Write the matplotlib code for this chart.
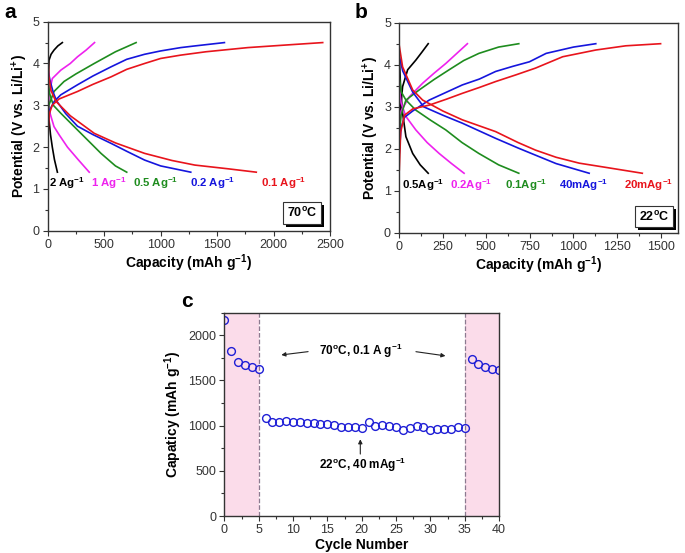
import matplotlib
matplotlib.use("Agg")
import matplotlib.pyplot as plt
from matplotlib.ticker import MultipleLocator
from matplotlib.patches import Rectangle
from matplotlib.transforms import IdentityTransform

plt.rcParams['font.family'] = ['Liberation Sans', 'DejaVu Sans']
plt.rcParams['mathtext.fontset'] = 'custom'
plt.rcParams['mathtext.rm'] = 'Liberation Sans'
plt.rcParams['mathtext.bf'] = 'Liberation Sans:bold'

# ---- panel a : 70 C, capacity (mAh/g) vs potential (V) ----
a_rates = ['2 Ag$^{\\mathbf{-1}}$', '1 Ag$^{\\mathbf{-1}}$', '0.5 Ag$^{\\mathbf{-1}}$',
           '0.2 Ag$^{\\mathbf{-1}}$', '0.1 Ag$^{\\mathbf{-1}}$']
a_label_x = [15, 385, 757, 1262, 1891]

a_2A_chg_x = [0, 3, 6, 12, 30, 56, 90, 130]
a_2A_chg_y = [2.0, 3.0, 3.6, 4.08, 4.22, 4.32, 4.42, 4.5]
a_2A_dis_x = [0, 5, 12, 25, 41, 60, 86]
a_2A_dis_y = [4.3, 3.5, 2.65, 2.3, 2.0, 1.7, 1.4]

a_1A_chg_x = [0, 8, 41, 116, 200, 264, 340, 415]
a_1A_chg_y = [2.5, 3.2, 3.64, 3.84, 4.0, 4.16, 4.32, 4.5]
a_1A_dis_x = [0, 12, 56, 100, 175, 270, 368]
a_1A_dis_y = [3.5, 2.89, 2.49, 2.3, 2.0, 1.7, 1.4]

a_05A_chg_x = [0, 10, 56, 145, 250, 412, 600, 783]
a_05A_chg_y = [2.6, 3.0, 3.33, 3.57, 3.75, 4.0, 4.28, 4.5]
a_05A_dis_x = [0, 15, 50, 116, 264, 472, 600, 700]
a_05A_dis_y = [3.8, 3.3, 3.0, 2.81, 2.41, 1.85, 1.55, 1.4]

a_02A_chg_x = [0, 5, 20, 60, 116, 264, 400, 561, 700, 858, 1000, 1178, 1303, 1565]
a_02A_chg_y = [2.0, 2.6, 2.9, 3.1, 3.25, 3.49, 3.7, 3.92, 4.1, 4.22, 4.3, 4.38, 4.42, 4.5]
a_02A_dis_x = [0, 20, 50, 80, 160, 264, 400, 561, 700, 858, 1000, 1267]
a_02A_dis_y = [3.9, 3.6, 3.3, 3.1, 2.8, 2.5, 2.3, 2.09, 1.9, 1.69, 1.55, 1.4]

a_01A_chg_x = [0, 5, 15, 40, 100, 264, 400, 561, 700, 858, 1000, 1178, 1400, 1772, 2100, 2435]
a_01A_chg_y = [1.5, 2.4, 2.8, 3.0, 3.15, 3.33, 3.5, 3.68, 3.86, 4.0, 4.12, 4.2, 4.28, 4.38, 4.44, 4.5]
a_01A_dis_x = [0, 10, 30, 71, 200, 412, 600, 858, 1100, 1303, 1600, 1847]
a_01A_dis_y = [4.4, 3.7, 3.35, 3.1, 2.75, 2.33, 2.1, 1.85, 1.68, 1.57, 1.48, 1.4]

# ---- panel b : 22 C ----
b_rates = ['0.5Ag$^{\\mathbf{-1}}$', '0.2Ag$^{\\mathbf{-1}}$', '0.1Ag$^{\\mathbf{-1}}$',
           '40mAg$^{\\mathbf{-1}}$', '20mAg$^{\\mathbf{-1}}$']
b_label_x = [13, 290, 604, 919, 1290]

b_05A_chg_x = [0, 8, 19, 48, 95, 130, 166]
b_05A_chg_y = [2.2, 3.0, 3.48, 3.88, 4.11, 4.3, 4.5]
b_05A_dis_x = [0, 8, 19, 38, 77, 120, 166]
b_05A_dis_y = [4.2, 3.4, 2.85, 2.29, 1.89, 1.62, 1.42]

b_02A_chg_x = [0, 10, 58, 134, 200, 267, 391]
b_02A_chg_y = [2.4, 2.9, 3.24, 3.56, 3.8, 4.03, 4.5]
b_02A_dis_x = [0, 10, 38, 95, 160, 229, 300, 372]
b_02A_dis_y = [3.5, 3.1, 2.77, 2.45, 2.15, 1.89, 1.65, 1.42]

b_01A_chg_x = [0, 10, 38, 114, 200, 286, 370, 457, 570, 686]
b_01A_chg_y = [2.3, 2.8, 3.16, 3.4, 3.65, 3.88, 4.1, 4.27, 4.42, 4.5]
b_01A_dis_x = [0, 12, 38, 95, 180, 267, 360, 457, 570, 686]
b_01A_dis_y = [3.7, 3.35, 3.16, 2.92, 2.68, 2.45, 2.15, 1.89, 1.62, 1.42]

b_40m_chg_x = [0, 10, 30, 77, 172, 362, 460, 553, 650, 747, 843, 1000, 1128]
b_40m_chg_y = [1.9, 2.5, 2.75, 2.9, 3.16, 3.52, 3.66, 3.84, 3.96, 4.07, 4.27, 4.42, 4.5]
b_40m_dis_x = [0, 20, 77, 140, 250, 362, 553, 682, 782, 900, 1090]
b_40m_dis_y = [4.2, 3.85, 3.35, 3.0, 2.8, 2.61, 2.25, 2.02, 1.85, 1.65, 1.42]

b_20m_chg_x = [0, 8, 30, 77, 172, 270, 362, 460, 553, 670, 782, 938, 1128, 1300, 1500]
b_20m_chg_y = [1.5, 2.4, 2.8, 2.95, 3.04, 3.18, 3.32, 3.46, 3.6, 3.76, 3.92, 4.19, 4.35, 4.45, 4.5]
b_20m_dis_x = [0, 19, 77, 134, 250, 362, 553, 682, 782, 900, 1033, 1200, 1395]
b_20m_dis_y = [4.45, 3.95, 3.4, 3.16, 2.9, 2.69, 2.41, 2.15, 1.97, 1.8, 1.66, 1.55, 1.42]

# ---- panel c : capacity vs cycle ----
cycles = list(range(41))
capacity = [2170, 1830, 1700, 1675, 1650, 1630,
            1085, 1045, 1035, 1055, 1040, 1035, 1025, 1025, 1015, 1020,
            1005, 990, 990, 990, 975, 1040, 995, 1010, 1000, 985,
            950, 970, 995, 990, 955, 960, 960, 960, 980, 975,
            1740, 1685, 1645, 1630, 1620]

colores = ['black', '#ee22ee', '#1e8c1e', '#1515dd', '#e8141c']

fig = plt.figure(figsize=(6.85, 5.53), dpi=100)
ax_a = fig.add_axes([0.0696, 0.5828, 0.4122, 0.378])
ax_b = fig.add_axes([0.5829, 0.5787, 0.4069, 0.3803])
ax_c = fig.add_axes([0.3275, 0.0669, 0.4010, 0.3676])


def estilo(ax, fs):
    for s in ax.spines.values():
        s.set_color('#333333')
        s.set_linewidth(1.0)
    ax.tick_params(which='both', direction='out', colors='#333333', labelsize=fs, width=0.8)
    ax.tick_params(which='major', length=3.5, pad=2.5)
    ax.tick_params(which='minor', length=2)


def caja_temp(ax, txt, x, y):
    t = ax.text(x, y, txt, transform=ax.transAxes, ha='center', va='center', fontsize=9,
                fontweight='bold', color='black', zorder=6,
                bbox=dict(boxstyle='square,pad=0.3', fc='white', ec='#333333', lw=0.8))
    fig.canvas.draw()
    bb = t.get_bbox_patch().get_window_extent()
    # sombra negra desplazada abajo a la derecha
    ax.add_artist(Rectangle((bb.x0 + 3, bb.y0 - 3), bb.width, bb.height,
                            transform=IdentityTransform(), fc='black', ec='none',
                            zorder=5, clip_on=False))


curvas_a = [(a_2A_chg_x, a_2A_chg_y, a_2A_dis_x, a_2A_dis_y),
            (a_1A_chg_x, a_1A_chg_y, a_1A_dis_x, a_1A_dis_y),
            (a_05A_chg_x, a_05A_chg_y, a_05A_dis_x, a_05A_dis_y),
            (a_02A_chg_x, a_02A_chg_y, a_02A_dis_x, a_02A_dis_y),
            (a_01A_chg_x, a_01A_chg_y, a_01A_dis_x, a_01A_dis_y)]
curvas_b = [(b_05A_chg_x, b_05A_chg_y, b_05A_dis_x, b_05A_dis_y),
            (b_02A_chg_x, b_02A_chg_y, b_02A_dis_x, b_02A_dis_y),
            (b_01A_chg_x, b_01A_chg_y, b_01A_dis_x, b_01A_dis_y),
            (b_40m_chg_x, b_40m_chg_y, b_40m_dis_x, b_40m_dis_y),
            (b_20m_chg_x, b_20m_chg_y, b_20m_dis_x, b_20m_dis_y)]

# 1. paneles a y b (curvas de carga / descarga)
for ax, curvas, rates, lx, xmax, xmaj, temp, tx, ty in [
        (ax_a, curvas_a, a_rates, a_label_x, 2500, 500, '70$^{\\mathbf{o}}$C', 0.90, 0.085),
        (ax_b, curvas_b, b_rates, b_label_x, 1600, 250, '22$^{\\mathbf{o}}$C', 0.915, 0.078)]:
    for (cx, cy, dx, dy), col, nombre, x0 in zip(curvas, colores, rates, lx):
        ax.plot(cx, cy, color=col, lw=1.2)
        ax.plot(dx, dy, color=col, lw=1.2)
        ax.text(x0, 1.13, nombre, color=col, fontsize=8.2, fontweight='bold',
                ha='left', va='center')
    ax.set_xlim(0, xmax)
    ax.set_ylim(0, 5)
    ax.xaxis.set_major_locator(MultipleLocator(xmaj))
    ax.xaxis.set_minor_locator(MultipleLocator(xmaj / 2))
    ax.yaxis.set_major_locator(MultipleLocator(1))
    ax.yaxis.set_minor_locator(MultipleLocator(0.5))
    estilo(ax, 9)
    ax.set_xlabel('Capacity (mAh g$^{\\mathbf{-1}}$)', fontsize=10, fontweight='bold', labelpad=1)
    ax.set_ylabel('Potential (V vs. Li/Li$^{\\mathbf{+}}$)', fontsize=10, fontweight='bold', labelpad=2)
    caja_temp(ax, temp, tx, ty)

fig.text(0.006, 0.995, 'a', fontsize=15, fontweight='bold', va='top')
fig.text(0.517, 0.995, 'b', fontsize=15, fontweight='bold', va='top')
fig.text(0.264, 0.472, 'c', fontsize=15, fontweight='bold', va='top')

# 2. panel c (ciclado)
ax_c.axvspan(0, 5, color='#fbdcea', lw=0)
ax_c.axvspan(35, 40, color='#fbdcea', lw=0)
ax_c.axvline(5, color='#8c7a90', ls='--', lw=0.9)
ax_c.axvline(35, color='#8c7a90', ls='--', lw=0.9)
ax_c.plot(cycles, capacity, 'o', ms=5.6, mfc='none', mec='#1f1fd6', mew=1.0)
ax_c.set_xlim(0, 40)
ax_c.set_ylim(0, 2250)
ax_c.xaxis.set_major_locator(MultipleLocator(5))
ax_c.xaxis.set_minor_locator(MultipleLocator(2.5))
ax_c.yaxis.set_major_locator(MultipleLocator(500))
ax_c.yaxis.set_minor_locator(MultipleLocator(250))
estilo(ax_c, 9)
ax_c.set_xlabel('Cycle Number', fontsize=10, fontweight='bold', labelpad=1)
ax_c.set_ylabel('Capaticy (mAh g$^{\\mathbf{-1}}$)', fontsize=10, fontweight='bold', labelpad=3)

ax_c.text(19.8, 1826, '70$^{\\mathbf{o}}$C, 0.1 A g$^{\\mathbf{-1}}$', fontsize=8.5,
          fontweight='bold', ha='center', va='center')
flecha = dict(arrowstyle='-|>', color='#222222', lw=0.8, mutation_scale=6)
ax_c.annotate('', xy=(7.9, 1779), xytext=(12.6, 1823), arrowprops=flecha)
ax_c.annotate('', xy=(32.6, 1768), xytext=(27.5, 1823), arrowprops=flecha)
ax_c.text(20.2, 563, '22$^{\\mathbf{o}}$C, 40 mAg$^{\\mathbf{-1}}$', fontsize=8.5,
          fontweight='bold', ha='center', va='center')
ax_c.annotate('', xy=(19.8, 880), xytext=(19.8, 655), arrowprops=flecha)

fig.savefig('out.png', dpi=100)
